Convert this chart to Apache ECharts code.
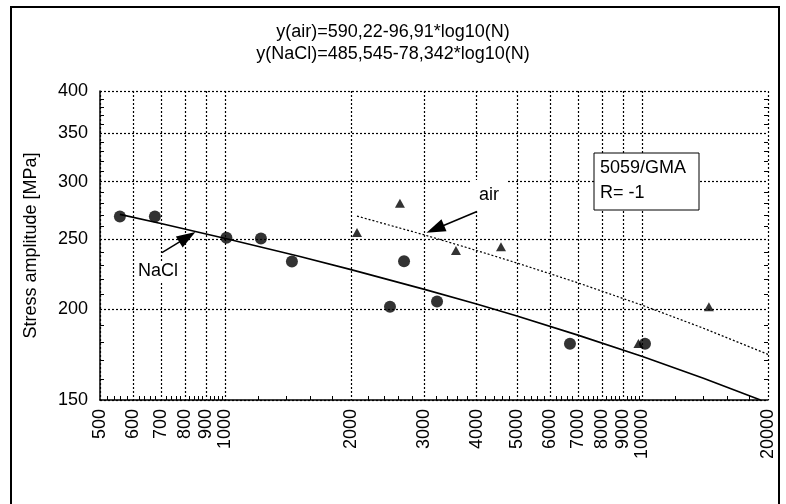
<!DOCTYPE html>
<html>
<head>
<meta charset="utf-8">
<script src="https://cdn.jsdelivr.net/npm/echarts@6/dist/echarts.min.js"></script>
<style>html,body{margin:0;padding:0;background:#fff;}#c{width:786px;height:504px;}</style>
</head>
<body>
<div id="c"></div>
<script>
// ---- data ----
var titleAir = 'y(air)=590,22-96,91*log10(N)';
var titleNaCl = 'y(NaCl)=485,545-78,342*log10(N)';
var yAxisName = 'Stress amplitude [MPa]';

var xTickLabels = [500, 600, 700, 800, 900, 1000, 2000, 3000, 4000, 5000, 6000, 7000, 8000, 9000, 10000, 20000];
var yTickLabels = [150, 200, 250, 300, 350, 400];
var xMinorTicks = [520, 540, 560, 580, 620, 640, 660, 680, 720, 740, 760, 780, 820, 840, 860, 880, 920, 940, 960, 980,
  1200, 1400, 1600, 1800, 2200, 2400, 2600, 2800, 3200, 3400, 3600, 3800, 4200, 4400, 4600, 4800,
  5200, 5400, 5600, 5800, 6200, 6400, 6600, 6800, 7200, 7400, 7600, 7800, 8200, 8400, 8600, 8800,
  9200, 9400, 9600, 9800, 12000, 14000, 16000, 18000];
var yMinorTicks = [160, 170, 180, 190, 210, 220, 230, 240, 260, 270, 280, 290, 310, 320, 330, 340, 360, 370, 380, 390];

// NaCl specimens (circles): [cycles N, stress amplitude]
var naclPoints = [[558, 268.6], [677, 268.6], [1005, 251], [1216, 250.5], [1443, 232.8], [2480, 201.7],
  [2680, 233], [3216, 205], [6700, 179.3], [10140, 179.3]];
// air specimens (triangles)
var airPoints = [[2067, 255.3], [2620, 280], [3570, 241], [4578, 244], [9780, 179.5], [14430, 201.7]];

// fitted curves
var naclFit = [[558, 270.4], [700, 262.7], [1000, 250.5], [1500, 236.7], [2000, 226.9], [3000, 213.1],
  [4000, 203.4], [5000, 195.8], [7000, 184.3], [10000, 172.2], [14000, 160.7], [19190, 150]];
var airFit = [[2067, 268.9], [3000, 253.3], [4000, 241.1], [5000, 231.7], [7000, 217.6], [10000, 202.6],
  [14000, 188.4], [20000, 173.4]];

// annotation arrows: [tail, arrowhead centre]
var naclArrow = [[704, 239.5], [810, 251.6]];
var airArrow = [[4010, 272.9], [3184, 258.1]];

var boxLines = ['5059/GMA', 'R= -1'];

// ---- chart ----
var FONT = '"Liberation Sans", Arial, sans-serif';
var FS = 18;
var chart = echarts.init(document.getElementById('c'), null, {renderer: 'canvas'});
var dotted = {color: '#000', width: 1.2, type: [2, 2]};

function arrowLine(a) {
  return [{coord: a[0], symbol: 'none'}, {coord: a[1], symbol: 'triangle'}];
}

chart.setOption({
  animation: false,
  backgroundColor: '#fff',
  textStyle: {fontFamily: FONT, color: '#000'},
  title: [
    {text: titleAir, left: 'center', top: 22, padding: 0,
     textStyle: {fontFamily: FONT, fontSize: FS, fontWeight: 'normal', color: '#000', lineHeight: 20}},
    {text: titleNaCl, left: 'center', top: 44, padding: 0,
     textStyle: {fontFamily: FONT, fontSize: FS, fontWeight: 'normal', color: '#000', lineHeight: 20}}
  ],
  grid: {left: 100, right: 18, top: 91, bottom: 104, containLabel: false},
  xAxis: [
    {type: 'log', logBase: 10, min: 500, max: 20000, position: 'bottom',
     axisLine: {show: true, onZero: false, lineStyle: {color: '#000', width: 1.5}},
     axisTick: {show: false, customValues: xTickLabels},
     axisLabel: {customValues: xTickLabels, rotate: 90, fontSize: FS, color: '#000', margin: 9, fontFamily: FONT,
       formatter: function (v) { return String(Math.round(v)); }},
     splitLine: {show: true, lineStyle: dotted}},
    {type: 'log', logBase: 10, min: 500, max: 20000, position: 'bottom',
     axisLine: {show: false},
     axisTick: {show: true, inside: true, length: 4, customValues: xMinorTicks, lineStyle: {color: '#000', width: 1}},
     axisLabel: {show: false},
     splitLine: {show: false}}
  ],
  yAxis: [
    {type: 'log', logBase: 10, min: 150, max: 400, position: 'left',
     name: yAxisName, nameLocation: 'middle', nameGap: 60,
     nameTextStyle: {fontSize: FS, color: '#000', fontFamily: FONT},
     axisLine: {show: true, onZero: false, lineStyle: {color: '#000', width: 1.5}},
     axisTick: {show: false, customValues: yTickLabels},
     axisLabel: {customValues: yTickLabels, fontSize: FS, color: '#000', margin: 12, fontFamily: FONT,
       formatter: function (v) { return String(Math.round(v)); }},
     splitLine: {show: true, lineStyle: dotted}},
    {type: 'log', logBase: 10, min: 150, max: 400, position: 'left',
     axisLine: {show: false},
     axisTick: {show: true, inside: true, length: 4, customValues: yMinorTicks, lineStyle: {color: '#000', width: 1}},
     axisLabel: {show: false}, splitLine: {show: false}},
    {type: 'log', logBase: 10, min: 150, max: 400, position: 'right',
     axisLine: {show: false},
     axisTick: {show: true, inside: true, length: 4, customValues: yMinorTicks, lineStyle: {color: '#000', width: 1}},
     axisLabel: {show: false}, splitLine: {show: false}}
  ],
  series: [
    {name: 'NaCl fit', type: 'line', data: naclFit, showSymbol: false, symbol: 'none',
     lineStyle: {color: '#000', width: 1.6}, z: 3,
     markLine: {silent: true, symbolSize: [13, 19], label: {show: false},
       lineStyle: {color: '#000', width: 1.5, type: 'solid'}, emphasis: {disabled: true},
       data: [arrowLine(naclArrow), arrowLine(airArrow)]}},
    {name: 'air fit', type: 'line', data: airFit, showSymbol: false, symbol: 'none',
     lineStyle: {color: '#000', width: 1.2, type: [2, 2]}, z: 3},
    {name: 'NaCl', type: 'scatter', data: naclPoints, symbol: 'circle', symbolSize: 12,
     itemStyle: {color: '#000'}, z: 4},
    {name: 'air', type: 'scatter', data: airPoints, symbol: 'triangle', symbolSize: [10, 9],
     itemStyle: {color: '#000'}, z: 4}
  ],
  graphic: [
    {type: 'rect', shape: {x: 11, y: 7, width: 768, height: 520}, silent: true,
     style: {fill: null, stroke: '#000', lineWidth: 2}, z: 0},
    {type: 'text', x: 158, y: 271, z: 10, silent: true,
     style: {text: 'NaCl', fontSize: FS, fontFamily: FONT, fill: '#000', align: 'center', verticalAlign: 'middle',
       backgroundColor: '#fff', padding: [1, 2]}},
    {type: 'text', x: 489, y: 195, z: 10, silent: true,
     style: {text: 'air', fontSize: FS, fontFamily: FONT, fill: '#000', align: 'center', verticalAlign: 'middle',
       backgroundColor: '#fff', padding: [6, 8]}},
    {type: 'rect', shape: {x: 594, y: 153, width: 105, height: 57}, z: 10, silent: true,
     style: {fill: '#fff', stroke: '#000', lineWidth: 1}},
    {type: 'text', x: 600, y: 168, z: 11, silent: true,
     style: {text: boxLines[0], fontSize: FS, fontFamily: FONT, fill: '#000', verticalAlign: 'middle'}},
    {type: 'text', x: 600, y: 193, z: 11, silent: true,
     style: {text: boxLines[1], fontSize: FS, fontFamily: FONT, fill: '#000', verticalAlign: 'middle'}}
  ]
});
</script>
</body>
</html>
